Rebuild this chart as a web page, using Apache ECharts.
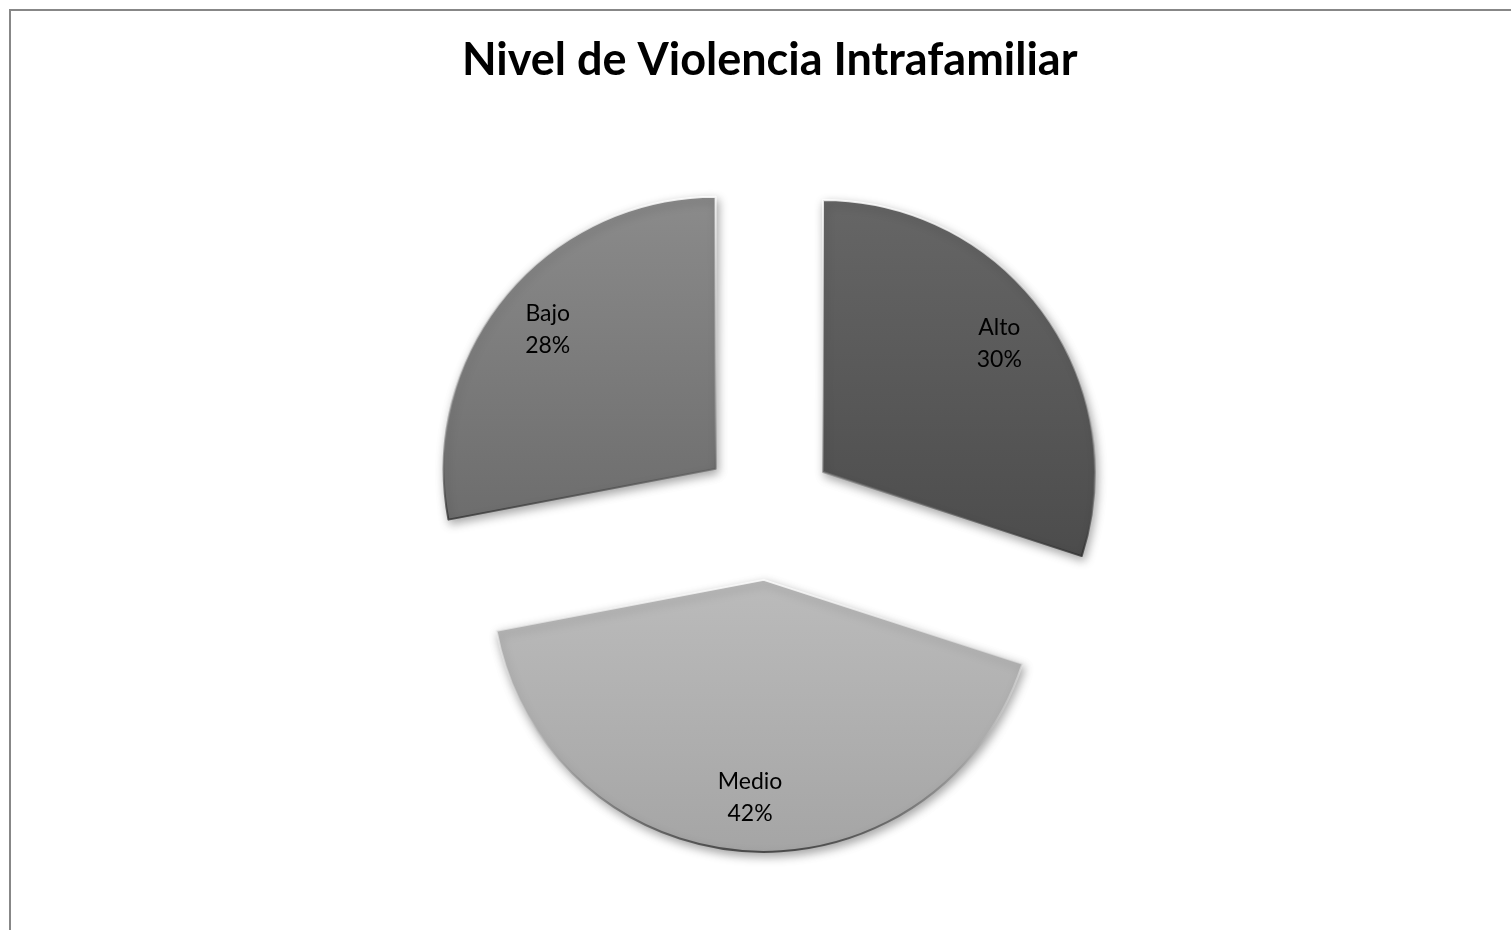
<!DOCTYPE html>
<html>
<head>
<meta charset="utf-8">
<title>Nivel de Violencia Intrafamiliar</title>
<script src="https://cdn.jsdelivr.net/npm/echarts@6/dist/echarts.min.js"></script>
<style>
  html, body { margin: 0; padding: 0; background: #ffffff; }
  #chart { width: 1511px; height: 930px; }
</style>
</head>
<body>
<div id="chart"></div>
<script>
// Levels and their share of cases (percent)
const categories = ['Alto', 'Medio', 'Bajo'];
const values = [30, 42, 28];

// Grey shades per slice: [top, bottom] of each slice's vertical gradient
const shades = {
  'Alto':  ['#666666', '#4c4c4c'],
  'Medio': ['#bbbbbb', '#a5a5a5'],
  'Bajo':  ['#8b8b8b', '#6d6d6d']
};

const CENTER = [768, 512];
const RADIUS = 272;
const EXPLODE = 68;

function vGrad(top, bottom) {
  return new echarts.graphic.LinearGradient(0, 0, 0, 1, [
    { offset: 0, color: top },
    { offset: 1, color: bottom }
  ]);
}

// bevel-like rim: light on upper edges, dark on lower edges
const edgeGrad = new echarts.graphic.LinearGradient(0, 0, 0, 1, [
  { offset: 0, color: 'rgba(255,255,255,0.85)' },
  { offset: 0.5, color: 'rgba(210,210,210,0.45)' },
  { offset: 1, color: 'rgba(40,40,40,0.75)' }
]);

const sliceData = categories.map((name, i) => {
  const s = shades[name];
  const style = {
    color: vGrad(s[0], s[1]),
    borderColor: edgeGrad,
    borderWidth: 2,
    shadowBlur: 10,
    shadowColor: 'rgba(0,0,0,0.35)',
    shadowOffsetX: 2,
    shadowOffsetY: 4
  };
  return {
    name: name,
    value: values[i],
    selected: true,
    itemStyle: style,
    select: { itemStyle: style }
  };
});

const labelData = categories.map((name, i) => ({
  name: name,
  value: values[i],
  selected: true
}));

const chart = echarts.init(document.getElementById('chart'), null, { renderer: 'canvas' });

chart.setOption({
  animation: false,
  backgroundColor: '#ffffff',
  title: {
    text: 'Nivel de Violencia Intrafamiliar',
    left: 457,
    top: 33,
    textStyle: {
      fontFamily: 'Lato',
      fontWeight: 'bold',
      fontSize: 45,
      color: '#000000'
    }
  },
  graphic: [{
    type: 'rect',
    silent: true,
    shape: { x: 10, y: 10, width: 1600, height: 1000 },
    style: { fill: 'none', stroke: '#878787', lineWidth: 2 }
  }],
  series: [
    {
      // the slices
      type: 'pie',
      center: CENTER,
      radius: [0, RADIUS],
      startAngle: 90,
      clockwise: true,
      selectedMode: 'multiple',
      selectedOffset: EXPLODE,
      avoidLabelOverlap: false,
      label: { show: false },
      labelLine: { show: false },
      emphasis: { disabled: true },
      data: sliceData
    },
    {
      // labels placed at ~80% of the radius
      type: 'pie',
      silent: true,
      center: CENTER,
      radius: [RADIUS * 0.58, RADIUS],
      startAngle: 90,
      clockwise: true,
      selectedMode: 'multiple',
      selectedOffset: EXPLODE,
      avoidLabelOverlap: false,
      itemStyle: { color: 'rgba(0,0,0,0)' },
      select: { itemStyle: { color: 'rgba(0,0,0,0)' } },
      emphasis: { disabled: true },
      labelLine: { show: false },
      label: {
        show: true,
        position: 'inside',
        formatter: '{b}\n{d}%',
        fontFamily: 'Lato',
        fontSize: 23,
        lineHeight: 32,
        color: '#000000',
        align: 'center'
      },
      data: labelData
    }
  ]
});
</script>
</body>
</html>
